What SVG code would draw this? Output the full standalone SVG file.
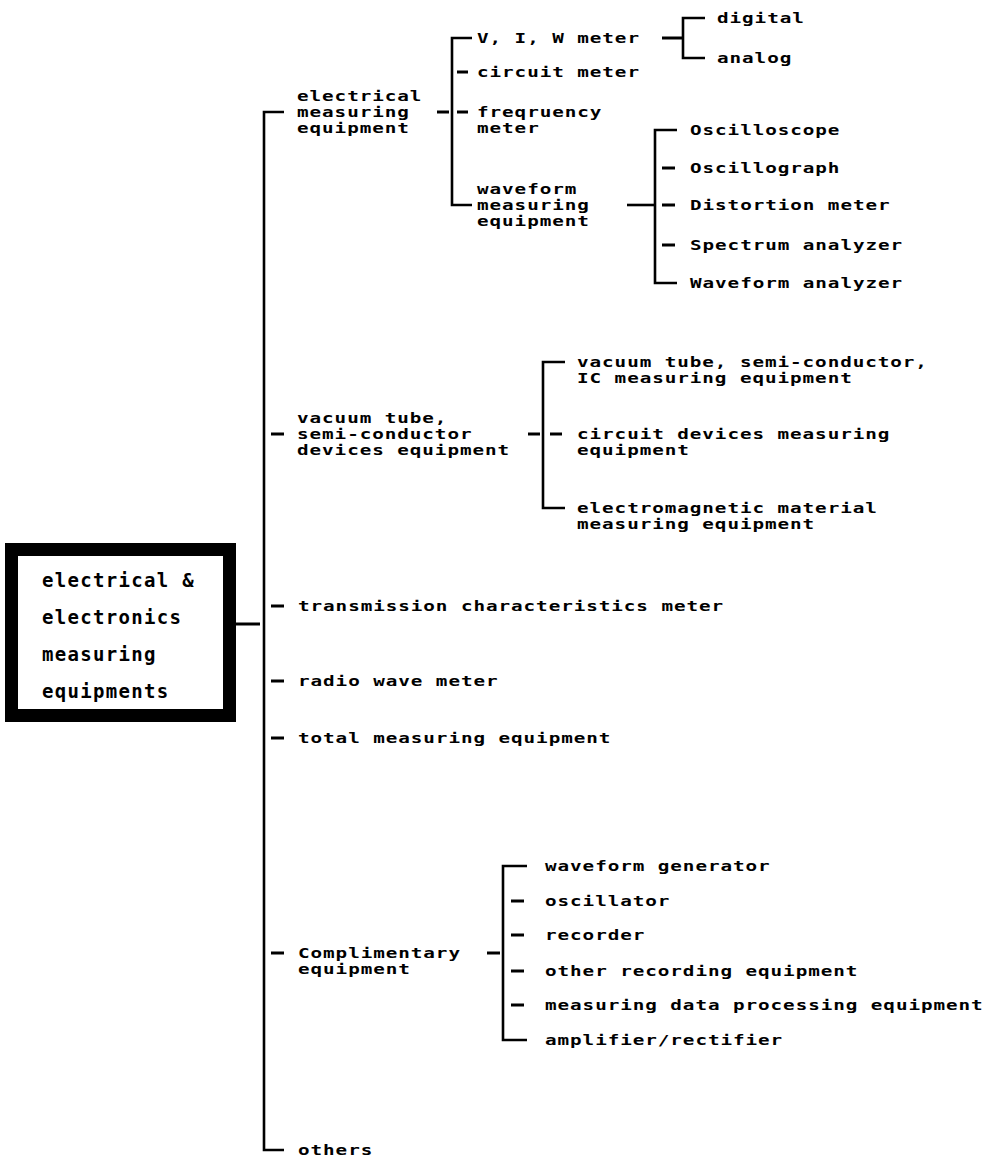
<svg xmlns="http://www.w3.org/2000/svg" width="985" height="1164" viewBox="0 0 985 1164">
<style>
.t{font-family:"DejaVu Sans Mono","Liberation Mono",monospace;font-weight:bold;font-size:14.5px;letter-spacing:0.7px;fill:#000}
.bt{font-family:"DejaVu Sans Mono","Liberation Mono",monospace;font-weight:bold;font-size:19px;letter-spacing:1.3px;fill:#000}
.c{stroke:#000;stroke-width:2.6;fill:none}
.d{stroke:#000;stroke-width:3;fill:none}
.box{stroke:#000;stroke-width:13;fill:#fff}
</style>
<rect width="985" height="1164" fill="#fff"/>
<g id="connectors">
  <path class="d" d="M236 624 H260" stroke-width="10"/>
  <path class="c" d="M284 112 H264 V1150 H284"/>
  <path class="d" d="M271 434 H284 M271 606 H284 M271 681 H284 M271 738 H284 M271 953 H284"/>
  <path class="d" d="M437 112 H449"/>
  <path class="c" d="M472 38 H452 V205 H472"/>
  <path class="d" d="M457 72 H468 M457 112 H468"/>
  <path class="d" d="M662 38 H682"/>
  <path class="c" d="M705 18 H683 V58 H705"/>
  <path class="c" d="M627 205 H655"/>
  <path class="c" d="M677 130 H655 V283 H677"/>
  <path class="d" d="M662 168 H675 M662 205 H675 M662 245 H675"/>
  <path class="d" d="M528 434 H540"/>
  <path class="c" d="M565 362 H543 V508 H565"/>
  <path class="d" d="M550 434 H562"/>
  <path class="d" d="M487 953 H500"/>
  <path class="c" d="M527 866 H503 V1040 H527"/>
  <path class="d" d="M511 901 H524 M511 935 H524 M511 971 H524 M511 1005 H524"/>
</g>
<g id="root">
  <rect class="box" x="11.5" y="549.5" width="218" height="166"/>
  <text class="bt" x="42" y="587">electrical &amp;</text>
  <text class="bt" x="42" y="624">electronics</text>
  <text class="bt" x="42" y="661">measuring</text>
  <text class="bt" x="42" y="698">equipments</text>
</g>
<g id="n-electrical"><text class="t" transform="translate(297,101) scale(1.33,1)"><tspan x="0" y="0">electrical</tspan><tspan x="0" y="16">measuring</tspan><tspan x="0" y="32">equipment</tspan></text></g>
<g id="n-viw"><text class="t" transform="translate(477,43) scale(1.33,1)">V, I, W meter</text></g>
<g id="n-digital"><text class="t" transform="translate(717,23) scale(1.33,1)">digital</text></g>
<g id="n-analog"><text class="t" transform="translate(717,63) scale(1.33,1)">analog</text></g>
<g id="n-circuit"><text class="t" transform="translate(477,77) scale(1.33,1)">circuit meter</text></g>
<g id="n-freq"><text class="t" transform="translate(477,117) scale(1.33,1)"><tspan x="0" y="0">freqruency</tspan><tspan x="0" y="16">meter</tspan></text></g>
<g id="n-waveform"><text class="t" transform="translate(477,194) scale(1.33,1)"><tspan x="0" y="0">waveform</tspan><tspan x="0" y="16">measuring</tspan><tspan x="0" y="32">equipment</tspan></text></g>
<g id="n-osc"><text class="t" transform="translate(690,135) scale(1.33,1)">Oscilloscope</text></g>
<g id="n-oscg"><text class="t" transform="translate(690,173) scale(1.33,1)">Oscillograph</text></g>
<g id="n-dist"><text class="t" transform="translate(690,210) scale(1.33,1)">Distortion meter</text></g>
<g id="n-spec"><text class="t" transform="translate(690,250) scale(1.33,1)">Spectrum analyzer</text></g>
<g id="n-wfa"><text class="t" transform="translate(690,288) scale(1.33,1)">Waveform analyzer</text></g>
<g id="n-vacuum"><text class="t" transform="translate(297,423) scale(1.33,1)"><tspan x="0" y="0">vacuum tube,</tspan><tspan x="0" y="16">semi-conductor</tspan><tspan x="0" y="32">devices equipment</tspan></text></g>
<g id="n-vic"><text class="t" transform="translate(577,367) scale(1.33,1)"><tspan x="0" y="0">vacuum tube, semi-conductor,</tspan><tspan x="0" y="16">IC measuring equipment</tspan></text></g>
<g id="n-cdm"><text class="t" transform="translate(577,439) scale(1.33,1)"><tspan x="0" y="0">circuit devices measuring</tspan><tspan x="0" y="16">equipment</tspan></text></g>
<g id="n-emm"><text class="t" transform="translate(577,513) scale(1.33,1)"><tspan x="0" y="0">electromagnetic material</tspan><tspan x="0" y="16">measuring equipment</tspan></text></g>
<g id="n-trans"><text class="t" transform="translate(298,611) scale(1.33,1)">transmission characteristics meter</text></g>
<g id="n-radio"><text class="t" transform="translate(298,686) scale(1.33,1)">radio wave meter</text></g>
<g id="n-total"><text class="t" transform="translate(298,743) scale(1.33,1)">total measuring equipment</text></g>
<g id="n-comp"><text class="t" transform="translate(298,958) scale(1.33,1)"><tspan x="0" y="0">Complimentary</tspan><tspan x="0" y="16">equipment</tspan></text></g>
<g id="n-wg"><text class="t" transform="translate(545,871) scale(1.33,1)">waveform generator</text></g>
<g id="n-oscil"><text class="t" transform="translate(545,906) scale(1.33,1)">oscillator</text></g>
<g id="n-rec"><text class="t" transform="translate(545,940) scale(1.33,1)">recorder</text></g>
<g id="n-orec"><text class="t" transform="translate(545,976) scale(1.33,1)">other recording equipment</text></g>
<g id="n-mdp"><text class="t" transform="translate(545,1010) scale(1.33,1)">measuring data processing equipment</text></g>
<g id="n-amp"><text class="t" transform="translate(545,1045) scale(1.33,1)">amplifier/rectifier</text></g>
<g id="n-others"><text class="t" transform="translate(298,1155) scale(1.33,1)">others</text></g>
</svg>
